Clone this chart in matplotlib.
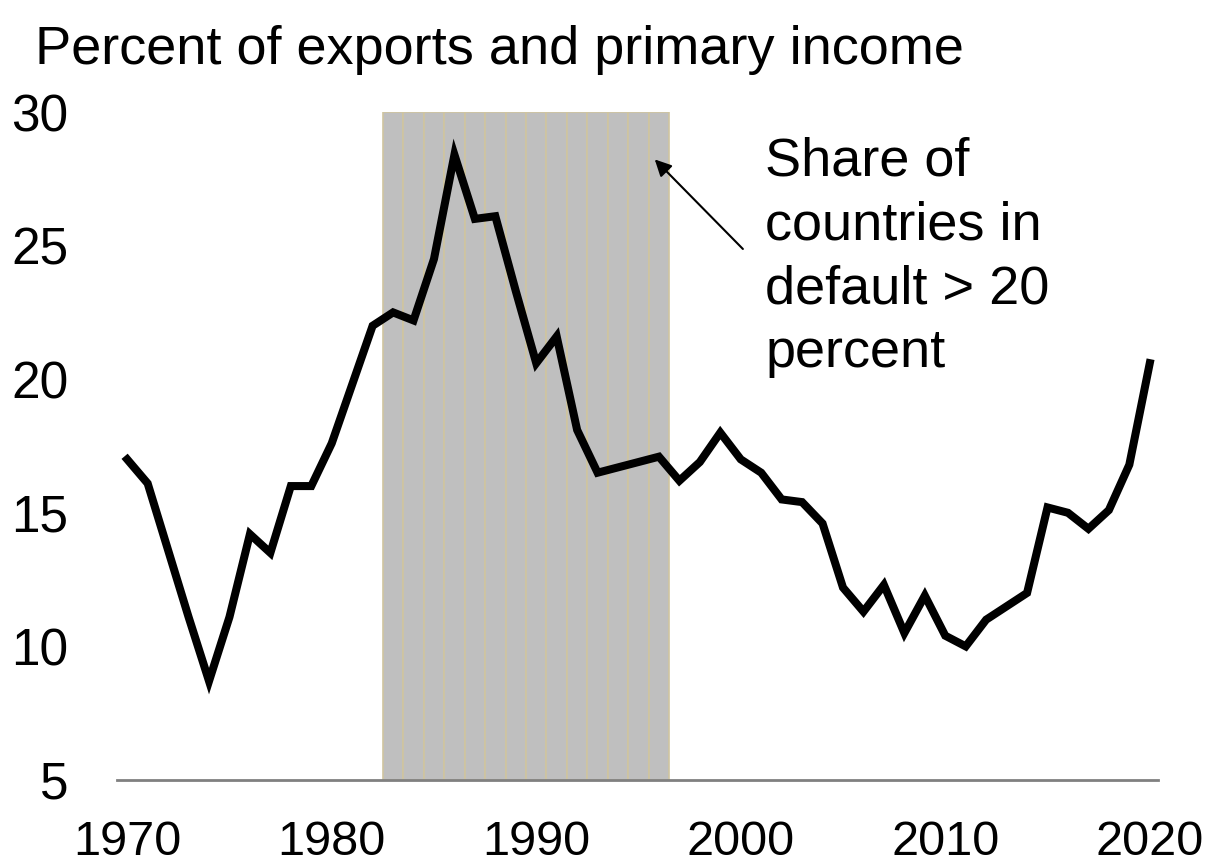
import matplotlib
matplotlib.use("Agg")
import matplotlib.pyplot as plt

plt.rcParams["font.family"] = ["Liberation Sans", "DejaVu Sans"]

years = list(range(1970, 2021))
values = [17.0, 16.1, 13.6, 11.1, 8.7, 11.1, 14.2, 13.5, 16.0, 16.0,
          17.6, 19.8, 22.0, 22.5, 22.2, 24.5, 28.4, 26.0, 26.1, 23.3,
          20.6, 21.6, 18.1, 16.5, 16.7, 16.9, 17.1, 16.2, 16.9, 18.0,
          17.0, 16.5, 15.5, 15.4, 14.6, 12.2, 11.3, 12.3, 10.5, 11.9,
          10.4, 10.0, 11.0, 11.5, 12.0, 15.2, 15.0, 14.4, 15.1, 16.8,
          20.6]

# years where share of countries in default > 20 percent
default_years = list(range(1983, 1997))

fig = plt.figure(figsize=(12.11, 8.65), dpi=100)
ax = fig.add_axes([0.0966, 0.0983, 0.8596, 0.7722])

ax.bar(default_years, [25] * len(default_years), bottom=5, width=1.0,
       color="#bfbfbf", edgecolor="#cfc5a0", linewidth=1.2, zorder=1)
ax.plot(years, values, color="black", linewidth=5.8, zorder=3,
        solid_joinstyle="miter")

ax.set_xlim(1969.5, 2020.4)
ax.set_ylim(5, 30)
ax.set_xticks([1970, 1980, 1990, 2000, 2010, 2020])
ax.set_yticks([5, 10, 15, 20, 25, 30])

for s in ["top", "right", "left"]:
    ax.spines[s].set_visible(False)
ax.spines["bottom"].set_color("#808080")
ax.spines["bottom"].set_linewidth(2)
ax.spines["bottom"].set_zorder(2)
ax.tick_params(axis="both", length=0)
ax.tick_params(axis="y", pad=35, labelsize=37)
ax.tick_params(axis="x", pad=29, labelsize=35)

fig.text(0.029, 0.926, "Percent of exports and primary income",
         fontsize=39, va="baseline", ha="left")

ax.annotate("", xy=(1995.7, 28.3), xytext=(2000.2, 24.8),
            arrowprops=dict(arrowstyle="-|>", color="black", lw=1.5,
                            mutation_scale=25), zorder=4)
ax.text(2001.2, 29.1, "Share of\ncountries in\ndefault > 20\npercent",
        fontsize=39, va="top", ha="left", linespacing=1.36)

fig.savefig("out.png", dpi=100)
